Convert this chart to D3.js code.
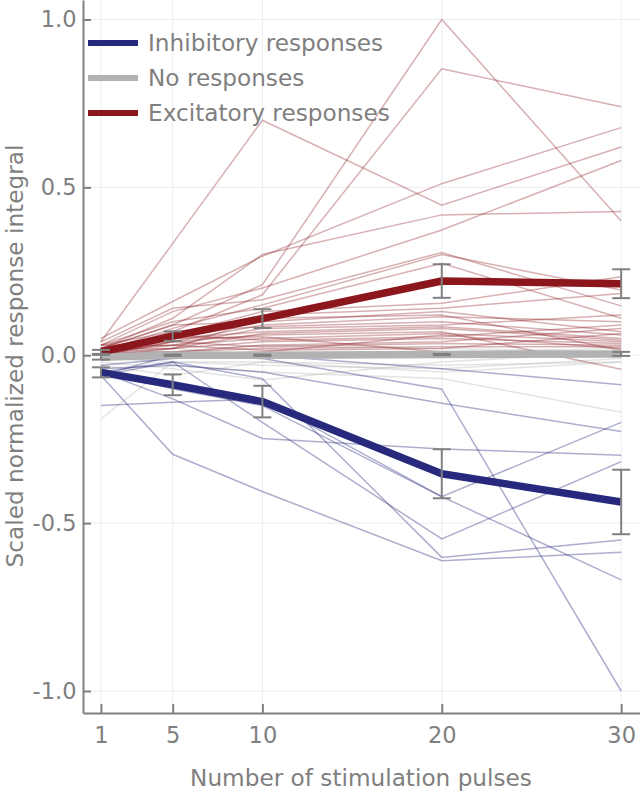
<!DOCTYPE html>
<html>
<head>
<meta charset="utf-8">
<script src="https://cdn.jsdelivr.net/npm/d3@7"></script>
<style>
  html, body { margin: 0; padding: 0; background: #fff; }
  svg { display: block; font-family: "DejaVu Sans", sans-serif; }
</style>
</head>
<body>
<svg id="chart" width="640" height="797"></svg>
<script>
// ---------------- data ----------------
const pulses = [1, 5, 10, 20, 30];
const xTickLabels = ["1", "5", "10", "20", "30"];
const yTicks = [-1.0, -0.5, 0.0, 0.5, 1.0];
const yTickLabels = ["-1.0", "-0.5", "0.0", "0.5", "1.0"];

const seriesNames = ["Inhibitory responses", "No responses", "Excitatory responses"];

// group means and error bars
const inhibitoryMean = [-0.051, -0.088, -0.138, -0.353, -0.437];
const inhibitoryErr  = [0.015, 0.031, 0.047, 0.073, 0.096];
const noRespMean     = [-0.006, 0.0, 0.0, 0.002, 0.004];
const noRespErr      = [0.007, 0.002, 0.002, 0.002, 0.006];
const excitatoryMean = [0.010, 0.057, 0.109, 0.221, 0.213];
const excitatoryErr  = [0.006, 0.014, 0.028, 0.050, 0.043];

// individual cells
const inhibitoryCells = [
  [-0.03, -0.01, 0.00, -0.040, -0.088],
  [-0.06, 0.00, -0.01, -0.101, -1.000],
  [-0.04, -0.03, -0.05, -0.143, -0.227],
  [-0.05, -0.13, -0.248, -0.279, -0.298],
  [-0.15, -0.14, -0.13, -0.421, -0.200],
  [-0.05, -0.10, -0.15, -0.421, -0.669],
  [-0.06, -0.02, -0.20, -0.547, -0.317],
  [-0.05, -0.02, -0.07, -0.602, -0.550],
  [-0.06, -0.295, -0.406, -0.612, -0.587]
];
const noRespCells = [
  [-0.19, -0.02, -0.02, -0.03, -0.02],
  [0.00, -0.03, -0.05, -0.069, -0.170],
  [-0.02, -0.04, -0.074, -0.02, 0.01],
  [0.01, 0.00, 0.01, 0.00, 0.00],
  [-0.01, 0.02, 0.00, 0.01, 0.02],
  [0.00, -0.02, -0.03, -0.04, -0.01],
  [-0.03, -0.06, -0.02, -0.05, -0.02],
  [0.02, 0.01, 0.03, 0.02, 0.01]
];
const excitatoryCells = [
  [0.04, 0.333, 0.70, 0.447, 0.620],
  [0.02, 0.09, 0.21, 1.000, 0.400],
  [0.03, 0.07, 0.18, 0.853, 0.740],
  [0.05, 0.16, 0.295, 0.511, 0.678],
  [0.03, 0.13, 0.20, 0.373, 0.580],
  [0.02, 0.11, 0.30, 0.418, 0.428],
  [0.04, 0.14, 0.165, 0.306, 0.147],
  [0.01, 0.08, 0.15, 0.300, 0.194],
  [0.03, 0.10, 0.14, 0.274, 0.110],
  [0.02, 0.06, 0.13, 0.155, 0.234],
  [0.01, 0.05, 0.12, 0.140, 0.184],
  [0.02, 0.09, 0.10, 0.130, 0.070],
  [0.00, 0.04, 0.09, 0.115, 0.100],
  [0.01, 0.07, 0.085, 0.100, 0.060],
  [0.03, 0.03, 0.08, 0.090, 0.120],
  [0.02, 0.05, 0.07, 0.085, 0.050],
  [0.01, 0.02, 0.065, 0.080, 0.045],
  [0.00, 0.04, 0.06, 0.070, -0.042],
  [0.02, 0.03, 0.05, 0.065, 0.040],
  [0.01, 0.06, 0.045, 0.055, 0.090],
  [0.00, 0.02, 0.04, 0.050, 0.035],
  [0.01, 0.01, 0.03, 0.040, 0.080],
  [0.02, 0.04, 0.025, 0.035, 0.030],
  [0.00, 0.01, 0.02, 0.025, 0.025],
  [0.01, 0.03, 0.015, 0.020, 0.065],
  [0.00, 0.00, 0.01, 0.060, 0.020],
  [0.02, 0.02, 0.11, 0.120, 0.015],
  [0.01, 0.05, 0.055, 0.010, 0.000]
];

// ---------------- drawing ----------------
const colors = { inh: "#272a7c", none: "#b2b2b2", exc: "#8b161c" };
const axisColor = "#808080";
const textColor = "#7f7f7f";

const svg = d3.select("#chart");
const plot = { left: 83, right: 640, top: 0, bottom: 713 };

const x = d3.scaleLinear().domain([0, 31.05]).range([plot.left, plot.right]);
const y = d3.scaleLinear().domain([-1.0655, 1.058]).range([plot.bottom, plot.top]);

// grid
const grid = svg.append("g");
grid.selectAll("line.v").data(pulses).join("line")
  .attr("x1", d => x(d)).attr("x2", d => x(d))
  .attr("y1", plot.top).attr("y2", plot.bottom)
  .attr("stroke", "#ececf0").attr("stroke-width", 1);
grid.selectAll("line.h").data(yTicks).join("line")
  .attr("y1", d => y(d)).attr("y2", d => y(d))
  .attr("x1", plot.left).attr("x2", plot.right)
  .attr("stroke", "#ececf0").attr("stroke-width", 1);

const line = d3.line().x((d, i) => x(pulses[i])).y(d => y(d));

function cells(data, color, opacity) {
  svg.append("g").selectAll("path").data(data).join("path")
    .attr("d", line)
    .attr("fill", "none")
    .attr("stroke", color)
    .attr("stroke-width", 1.5)
    .attr("stroke-opacity", opacity);
}
cells(noRespCells, colors.none, 0.35);
cells(inhibitoryCells, colors.inh, 0.38);
cells(excitatoryCells, colors.exc, 0.34);

function meanLine(data, color) {
  svg.append("path").datum(data)
    .attr("d", line)
    .attr("fill", "none")
    .attr("stroke", color)
    .attr("stroke-width", 7.5)
    .attr("stroke-linejoin", "round");
}
meanLine(inhibitoryMean, colors.inh);
meanLine(noRespMean, colors.none);
meanLine(excitatoryMean, colors.exc);

function errorBars(mean, err) {
  const g = svg.append("g").attr("stroke", axisColor).attr("stroke-width", 2);
  const pts = mean.map((m, i) => ({ px: pulses[i], lo: m - err[i], hi: m + err[i] }));
  g.selectAll("line.s").data(pts).join("line")
    .attr("x1", d => x(d.px)).attr("x2", d => x(d.px))
    .attr("y1", d => y(d.lo)).attr("y2", d => y(d.hi));
  g.selectAll("line.lo").data(pts).join("line")
    .attr("x1", d => x(d.px) - 9).attr("x2", d => x(d.px) + 9)
    .attr("y1", d => y(d.lo)).attr("y2", d => y(d.lo));
  g.selectAll("line.hi").data(pts).join("line")
    .attr("x1", d => x(d.px) - 9).attr("x2", d => x(d.px) + 9)
    .attr("y1", d => y(d.hi)).attr("y2", d => y(d.hi));
}
errorBars(inhibitoryMean, inhibitoryErr);
errorBars(noRespMean, noRespErr);
errorBars(excitatoryMean, excitatoryErr);

// axes
const yAxis = d3.axisLeft(y).tickValues(yTicks)
  .tickFormat((d, i) => yTickLabels[i])
  .tickSizeInner(-8).tickSizeOuter(0).tickPadding(6.5);
const xAxis = d3.axisBottom(x).tickValues(pulses)
  .tickFormat((d, i) => xTickLabels[i])
  .tickSizeInner(-9).tickSizeOuter(0).tickPadding(14);

const gy = svg.append("g").attr("transform", `translate(${plot.left},0)`).call(yAxis);
const gx = svg.append("g").attr("transform", `translate(0,${plot.bottom})`).call(xAxis);
[gx, gy].forEach(g => {
  g.select(".domain").attr("stroke", axisColor).attr("stroke-width", 2);
  g.selectAll(".tick line").attr("stroke", axisColor).attr("stroke-width", 2);
  g.selectAll(".tick text").attr("fill", textColor)
    .style("font-family", "DejaVu Sans").style("font-size", "22.5px");
});

// axis titles
svg.append("text")
  .attr("x", 361).attr("y", 786)
  .attr("text-anchor", "middle")
  .attr("fill", textColor).style("font-size", "23.2px")
  .text("Number of stimulation pulses");
svg.append("text")
  .attr("transform", "translate(23,356) rotate(-90)")
  .attr("text-anchor", "middle")
  .attr("fill", textColor).style("font-size", "23.2px")
  .text("Scaled normalized response integral");

// legend
const legendColors = [colors.inh, colors.none, colors.exc];
const legendY = [43, 78, 113];
const lg = svg.append("g");
lg.selectAll("line").data(seriesNames).join("line")
  .attr("x1", 88).attr("x2", 138)
  .attr("y1", (d, i) => legendY[i]).attr("y2", (d, i) => legendY[i])
  .attr("stroke", (d, i) => legendColors[i]).attr("stroke-width", 6);
lg.selectAll("text").data(seriesNames).join("text")
  .attr("x", 148).attr("y", (d, i) => legendY[i])
  .attr("dy", "0.35em")
  .attr("fill", textColor).style("font-size", "23.2px")
  .text(d => d);
</script>
</body>
</html>
